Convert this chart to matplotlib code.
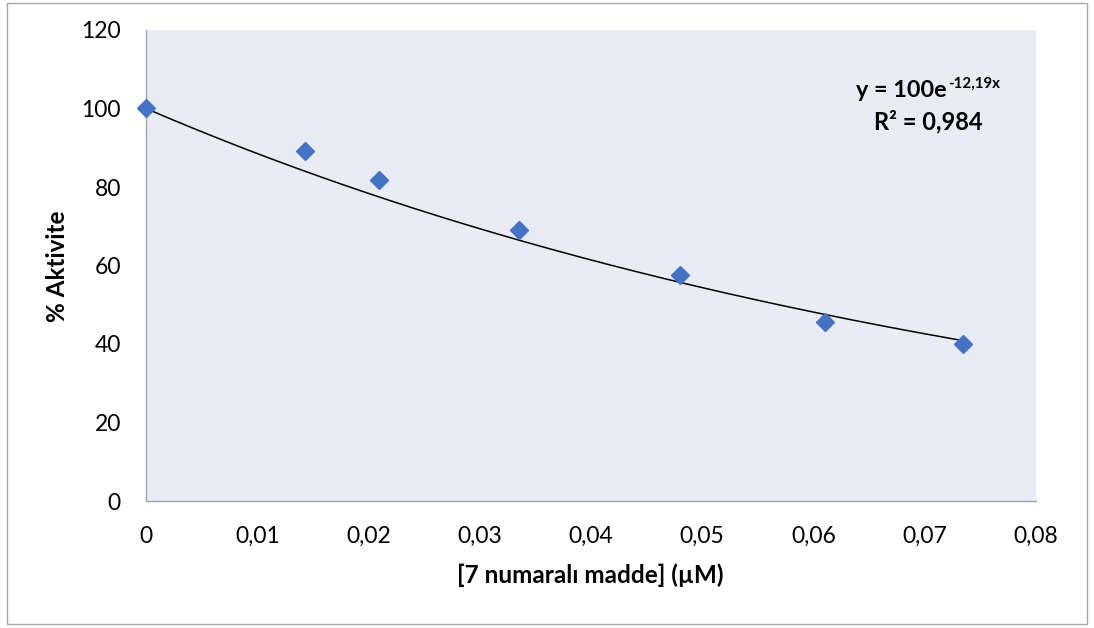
import numpy as np
import matplotlib
matplotlib.use("Agg")
import matplotlib.pyplot as plt
from matplotlib.patches import Rectangle

plt.rcParams['font.family'] = ['Lato', 'DejaVu Sans']

conc = [0.0, 0.0143, 0.0209, 0.0335, 0.0480, 0.0610, 0.0734]
activity = [100.1, 89.2, 81.8, 69.0, 57.6, 45.6, 40.0]
fit_a = 100.0
fit_b = -12.19
xticks = [0, 0.01, 0.02, 0.03, 0.04, 0.05, 0.06, 0.07, 0.08]
xticklabels = ["0", "0,01", "0,02", "0,03", "0,04", "0,05", "0,06", "0,07", "0,08"]
yticks = [0, 20, 40, 60, 80, 100, 120]

W, H = 1094, 628
fig = plt.figure(figsize=(W/100, H/100), dpi=100)
ax = fig.add_axes([146/W, 1-501/H, (1036-146)/W, (501-30)/H])
ax.set_facecolor('#E9EBF5')

xf = np.linspace(0, max(conc), 200)
ax.plot(xf, fit_a*np.exp(fit_b*xf), color='black', lw=1.1, zorder=2)
ax.plot(conc, activity, linestyle='none', marker='D', ms=9.5, color='#4472C4', zorder=3, clip_on=False)

ax.set_xlim(0, 0.08)
ax.set_ylim(0, 120)
ax.set_xticks(xticks)
ax.set_xticklabels(xticklabels)
ax.set_yticks(yticks)
ax.tick_params(axis='both', length=0, labelsize=16.5, colors='black')
ax.tick_params(axis='y', pad=18)
ax.tick_params(axis='x', pad=18)
for s in ['top', 'right']:
    ax.spines[s].set_visible(False)
for s in ['left', 'bottom']:
    ax.spines[s].set_color('#A6A6A6')
    ax.spines[s].set_linewidth(1.0)

xl = ax.set_xlabel('[7 numaralı madde] (µM)', fontsize=17.5, fontweight='bold')
yl = ax.set_ylabel('% Aktivite', fontsize=17.5, fontweight='bold')
xl.set_va('center')
yl.set_va('center')
ax.xaxis.set_label_coords(590/W, 1-575/H, transform=fig.transFigure)
ax.yaxis.set_label_coords(58/W, 1-266/H, transform=fig.transFigure)

fig.text(947/W, 1-97/H, 'y = 100e', ha='right', va='baseline', fontsize=16.8, fontweight='bold')
fig.text(948/W, 1-88/H, '-12,19x', ha='left', va='baseline', fontsize=10.8, fontweight='bold')
fig.text(928/W, 1-129/H, 'R² = 0,984', ha='center', va='baseline', fontsize=17, fontweight='bold')

fig.patches.append(Rectangle((7/W, 1-624/H), 1080/W, 621/H, transform=fig.transFigure,
                             fill=False, edgecolor='#A6A6A6', lw=1.0))

fig.savefig('out.png', dpi=100)
